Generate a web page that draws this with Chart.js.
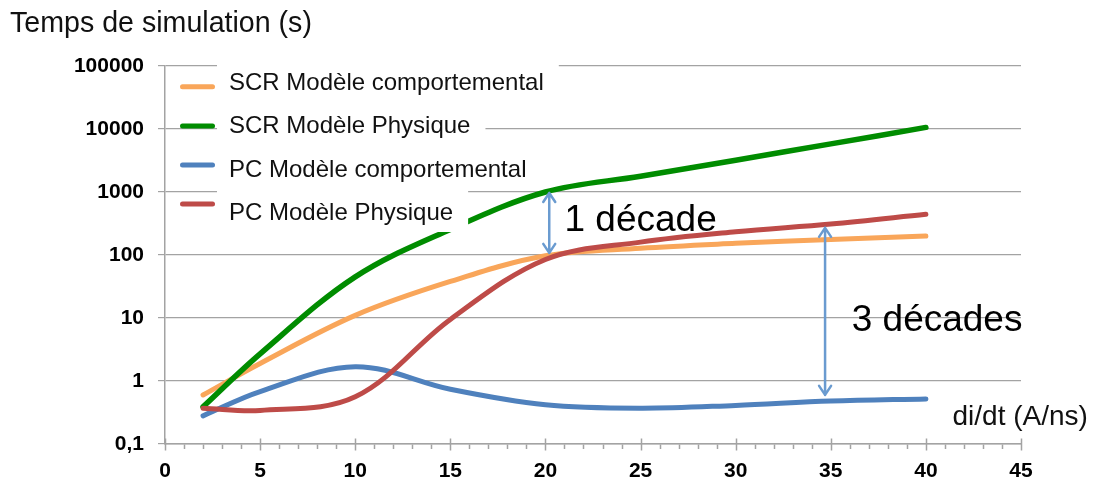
<!DOCTYPE html>
<html>
<head>
<meta charset="utf-8">
<script src="https://cdn.jsdelivr.net/npm/chart.js@4/dist/chart.umd.min.js"></script>
<style>
  html, body { margin: 0; padding: 0; background: #ffffff; }
  #wrap { width: 1094px; height: 483px; position: relative; }
</style>
</head>
<body>
<div id="wrap"><canvas id="c"></canvas></div>
<script>
// ---- data ----
const xValues = [2, 5, 10, 15, 20, 25, 30, 35, 40];
const scrComportemental = [0.6, 1.9, 11, 38, 97, 128, 153, 177, 200];
const scrPhysique = [0.39, 2.7, 45, 255, 1000, 1780, 3200, 5800, 10600];
const pcComportemental = [0.28, 0.68, 1.69, 0.74, 0.42, 0.37, 0.41, 0.48, 0.52];
const pcPhysique = [0.37, 0.34, 0.56, 9.5, 85, 160, 234, 310, 443];

const seriesNames = ['SCR Modèle comportemental', 'SCR Modèle Physique', 'PC Modèle comportemental', 'PC Modèle Physique'];
const seriesColors = ['#F9A65A', '#008C00', '#4F81BD', '#BE4B48'];
const seriesWidths = [5, 5.5, 5, 5];

const yTicks = [0.1, 1, 10, 100, 1000, 10000, 100000];
const yTickLabels = ['0,1', '1', '10', '100', '1000', '10000', '100000'];
const xMin = 0, xMax = 45, xMajorStep = 5;

const titleText = 'Temps de simulation (s)';
const xAxisText = 'di/dt (A/ns)';

// annotations (data coordinates)
const arrowX = [20.2, 34.7];
const arrowTop = [1000, 280];
const arrowBottom = [104, 0.58];
const noteTexts = ['1 décade', '3 décades'];
const noteX = [21.0, 36.1];
const noteY = [347, 9.0];

const FONT = '"Liberation Sans", Arial, Helvetica, sans-serif';
const GRID = '#a3a3a3';

function toPoints(vals) { return xValues.map((x, i) => ({ x: x, y: vals[i] })); }
const allSeries = [scrComportemental, scrPhysique, pcComportemental, pcPhysique];
const drawOrder = [4, 3, 2, 1];

const datasets = allSeries.map((vals, i) => ({
  label: seriesNames[i],
  data: toPoints(vals),
  borderColor: seriesColors[i],
  backgroundColor: seriesColors[i],
  borderWidth: seriesWidths[i],
  pointRadius: 0,
  tension: 0.35,
  borderCapStyle: 'round',
  borderJoinStyle: 'round',
  order: drawOrder[i],
  fill: false
}));

const overlayPlugin = {
  id: 'overlay',
  afterDatasetsDraw(chart) {
    const ctx = chart.ctx;
    const ca = chart.chartArea;
    const xs = chart.scales.x, ys = chart.scales.y;
    ctx.save();

    // custom legend: icons + white-backed labels
    const boxTop = [-7, 36, 80, 123];
    const boxH = [43, 44, 43, 43];
    const baseY = [24, 67.3, 110.7, 154];
    const iconY = [20.7, 60, 99, 138];
    ctx.font = '24px ' + FONT;
    ctx.textBaseline = 'alphabetic';
    ctx.textAlign = 'left';
    seriesNames.forEach((name, i) => {
      const w = ctx.measureText(name).width;
      ctx.fillStyle = '#ffffff';
      ctx.fillRect(ca.left + 52, ca.top + boxTop[i], 12 + w + 15, boxH[i]);
      ctx.fillStyle = '#111111';
      ctx.fillText(name, ca.left + 64, ca.top + baseY[i]);
      ctx.beginPath();
      ctx.strokeStyle = seriesColors[i];
      ctx.lineWidth = 5;
      ctx.lineCap = 'round';
      ctx.moveTo(ca.left + 17.5, ca.top + iconY[i]);
      ctx.lineTo(ca.left + 47.5, ca.top + iconY[i]);
      ctx.stroke();
    });

    // double arrows
    ctx.strokeStyle = '#6A9BD0';
    ctx.lineWidth = 2.5;
    ctx.lineCap = 'round';
    ctx.lineJoin = 'round';
    arrowX.forEach((ax, i) => {
      const px = xs.getPixelForValue(ax);
      const t = ys.getPixelForValue(arrowTop[i]);
      const b = ys.getPixelForValue(arrowBottom[i]);
      ctx.beginPath();
      ctx.moveTo(px, t + 1); ctx.lineTo(px, b - 1);
      ctx.moveTo(px - 6, t + 10); ctx.lineTo(px, t + 1); ctx.lineTo(px + 6, t + 10);
      ctx.moveTo(px - 6, b - 10); ctx.lineTo(px, b - 1); ctx.lineTo(px + 6, b - 10);
      ctx.stroke();
    });

    // notes
    ctx.fillStyle = '#000000';
    ctx.font = '37px ' + FONT;
    ctx.textBaseline = 'middle';
    noteTexts.forEach((txt, i) => {
      ctx.fillText(txt, xs.getPixelForValue(noteX[i]), ys.getPixelForValue(noteY[i]));
    });

    // x axis name
    ctx.font = '28px ' + FONT;
    ctx.fillStyle = '#111111';
    ctx.fillText(xAxisText, xs.getPixelForValue(41.4), ys.getPixelForValue(0.268));

    // title
    ctx.font = '28.6px ' + FONT;
    ctx.textBaseline = 'alphabetic';
    ctx.fillText(titleText, 10, 32);

    // x axis tick marks (major every 5, minor every 1)
    ctx.strokeStyle = GRID;
    ctx.lineWidth = 1.5;
    ctx.lineCap = 'butt';
    const by = ca.bottom + 0.5;
    ctx.beginPath();
    for (let v = xMin; v <= xMax; v++) {
      const px = Math.round(xs.getPixelForValue(v)) + 0.5;
      if (v % xMajorStep === 0) { ctx.moveTo(px, by - 6); ctx.lineTo(px, by + 6); }
      else { ctx.moveTo(px, by); ctx.lineTo(px, by + 4.5); }
    }
    ctx.stroke();
    ctx.restore();
  }
};

new Chart(document.getElementById('c'), {
  type: 'line',
  data: { datasets: datasets },
  options: {
    responsive: true,
    maintainAspectRatio: false,
    animation: false,
    layout: { padding: { top: 66, right: 73, left: 0, bottom: 0 } },
    plugins: { legend: { display: false }, tooltip: { enabled: false }, title: { display: false } },
    scales: {
      x: {
        type: 'linear',
        min: xMin, max: xMax,
        afterFit(scale) { scale.height = 39; },
        ticks: {
          stepSize: 1, autoSkip: false, maxRotation: 0, padding: 9,
          color: '#000000',
          font: { family: FONT, size: 21, weight: 'bold' },
          callback: (v) => (v % xMajorStep === 0 ? String(v) : '')
        },
        grid: { display: true, drawOnChartArea: false, drawTicks: true, tickLength: 6, color: 'rgba(0,0,0,0)' },
        border: { display: true, color: GRID, width: 1.5 }
      },
      y: {
        type: 'logarithmic',
        min: yTicks[0], max: yTicks[yTicks.length - 1],
        afterFit(scale) { scale.width = 165; },
        afterBuildTicks(scale) { scale.ticks = yTicks.map(v => ({ value: v })); },
        ticks: {
          padding: 14,
          color: '#000000',
          font: { family: FONT, size: 21, weight: 'bold' },
          callback: (v) => { const k = yTicks.indexOf(v); return k >= 0 ? yTickLabels[k] : ''; }
        },
        grid: { color: GRID, lineWidth: 1.2, tickLength: 7, drawTicks: true },
        border: { display: true, color: GRID, width: 1.5 }
      }
    }
  },
  plugins: [overlayPlugin]
});
</script>
</body>
</html>
